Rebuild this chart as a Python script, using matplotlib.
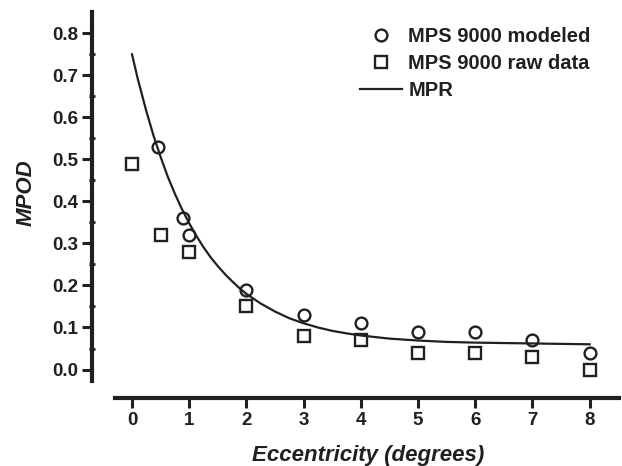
import numpy as np
import matplotlib
matplotlib.use("Agg")
import matplotlib.pyplot as plt
from matplotlib.ticker import FixedLocator, FormatStrFormatter

plt.rcParams['font.family'] = ['Liberation Sans', 'DejaVu Sans']
plt.rcParams['font.weight'] = 'bold'

INK = '#231f20'

# MPS 9000 modeled (circles)
ecc_model = [0.45, 0.9, 1.0, 2, 3, 4, 5, 6, 7, 8]
mpod_model = [0.53, 0.36, 0.32, 0.19, 0.13, 0.11, 0.09, 0.09, 0.07, 0.04]

# MPS 9000 raw data (squares)
ecc_raw = [0, 0.5, 1.0, 2, 3, 4, 5, 6, 7, 8]
mpod_raw = [0.49, 0.32, 0.28, 0.15, 0.08, 0.07, 0.04, 0.04, 0.03, 0.0]

# MPR curve
ecc_mpr = [0, 0.1, 0.25, 0.375, 0.5, 0.625, 0.75, 0.875, 1.0, 1.125, 1.25, 1.375,
           1.5, 1.625, 1.75, 1.875, 2.0, 2.25, 2.5, 2.75, 3.0, 3.25, 3.5, 3.75,
           4.0, 4.5, 5.0, 5.5, 6.0, 7.0, 8.0]
mpod_mpr = [0.75, 0.692, 0.615, 0.557, 0.506, 0.459, 0.418, 0.381, 0.348, 0.318,
            0.291, 0.267, 0.246, 0.227, 0.210, 0.194, 0.180, 0.157, 0.138, 0.122,
            0.110, 0.100, 0.092, 0.086, 0.081, 0.0735, 0.069, 0.0657, 0.064, 0.062, 0.060]

fig = plt.figure(figsize=(6.22, 4.66), dpi=100)
ax = fig.add_axes([0.1484, 0.1459, 0.8468, 0.829])

ax.plot(ecc_mpr, mpod_mpr, '-', color=INK, lw=1.6, label='MPR', zorder=2)
ax.plot(ecc_model, mpod_model, 'o', ms=8.5, mfc='none', mec=INK, mew=1.7,
        label='MPS 9000 modeled', clip_on=False, zorder=3)
ax.plot(ecc_raw, mpod_raw, 's', ms=8, mfc='none', mec=INK, mew=1.7,
        label='MPS 9000 raw data', clip_on=False, zorder=3)

ax.set_xlim(-0.694, 8.514)
ax.set_ylim(-0.0678, 0.8514)

for s in ['top', 'right']:
    ax.spines[s].set_visible(False)
for s in ['left', 'bottom']:
    ax.spines[s].set_linewidth(3.0)
    ax.spines[s].set_color(INK)
ax.spines['left'].set_bounds(-0.027, 0.8514)
ax.spines['bottom'].set_bounds(-0.29, 8.514)

ax.xaxis.set_major_locator(FixedLocator(range(0, 9)))
ax.set_yticks(np.arange(0, 0.81, 0.1))
ax.yaxis.set_minor_locator(FixedLocator(np.arange(0.05, 0.8, 0.1)))
ax.yaxis.set_major_formatter(FormatStrFormatter('%.1f'))

ax.tick_params(axis='both', which='major', direction='out', length=7, width=2.2,
               color=INK, labelsize=13.5, labelcolor=INK, pad=3)
ax.tick_params(axis='y', which='minor', direction='inout', length=4, width=2.0, color=INK)

ax.set_xlabel('Eccentricity (degrees)', fontsize=16, fontstyle='italic',
              fontweight='bold', color=INK, va='center')
ax.set_ylabel('MPOD', fontsize=16, fontstyle='italic', fontweight='bold',
              color=INK, va='center')
ax.xaxis.set_label_coords((368 - 92.3) / (0.8468 * 622), -(455 - 398) / (0.829 * 466))
ax.yaxis.set_label_coords(-(92.3 - 26) / (0.8468 * 622), (398 - 193) / (0.829 * 466))

h, l = ax.get_legend_handles_labels()
order = [1, 2, 0]
ax.legend([h[i] for i in order], [l[i] for i in order], frameon=False,
          loc='upper left', bbox_to_anchor=(360 / 622, 1 - 27 / 466),
          bbox_transform=fig.transFigure, fontsize=14.5, borderpad=0,
          handlelength=2.1, handletextpad=0.3, labelspacing=0.4,
          borderaxespad=0, labelcolor=INK)

fig.savefig('out.png', dpi=100)
